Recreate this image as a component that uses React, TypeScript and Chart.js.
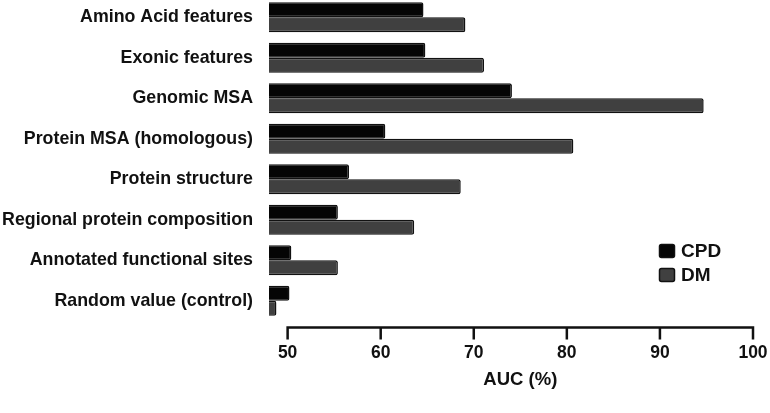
import React, { useEffect, useRef } from "react";
import { Chart, registerables } from "chart.js";

Chart.register(...registerables);

const categories = [
  "Amino Acid features",
  "Exonic features",
  "Genomic MSA",
  "Protein MSA (homologous)",
  "Protein structure",
  "Regional protein composition",
  "Annotated functional sites",
  "Random value (control)",
];
const cpdValues = [64.6, 64.8, 74.1, 60.5, 56.6, 55.4, 50.4, 50.2];
const dmValues = [69.1, 71.1, 94.7, 80.7, 68.6, 63.6, 55.4, 48.8];
const tickValues = [50, 60, 70, 80, 90, 100];
const seriesNames = ["CPD", "DM"];
const axisTitle = "AUC (%)";

const FONT = "'Liberation Sans', Arial, sans-serif";
const SHIFT = 3;

const customPlugin = {
  id: "customAxisLegend",
  afterDraw(chart: any) {
    const ctx = chart.ctx;
    const x = chart.scales.x;
    const area = chart.chartArea;
    const axisY = area.bottom + 6.5;
    const x0 = x.getPixelForValue(tickValues[0]);
    const x1 = x.getPixelForValue(tickValues[tickValues.length - 1]);
    ctx.save();
    ctx.strokeStyle = "#111";
    ctx.lineWidth = 2.5;
    ctx.lineCap = "butt";
    ctx.beginPath();
    ctx.moveTo(x0 - 1.25, axisY);
    ctx.lineTo(x1 + 1.25, axisY);
    tickValues.forEach((v) => {
      const px = x.getPixelForValue(v);
      ctx.moveTo(px, axisY);
      ctx.lineTo(px, axisY + 12);
    });
    ctx.stroke();

    ctx.fillStyle = "#111";
    ctx.font = `bold 18.5px ${FONT}`;
    ctx.textAlign = "center";
    ctx.textBaseline = "middle";
    ctx.fillText(axisTitle, (x0 + x1) / 2, 380 + SHIFT);

    const colors = ["#050505", "#404040"];
    const ys = [251 + SHIFT, 275 + SHIFT];
    seriesNames.forEach((name, i) => {
      ctx.fillStyle = colors[i];
      ctx.strokeStyle = "#111";
      ctx.lineWidth = 1.5;
      ctx.beginPath();
      (ctx as any).roundRect(659.5, ys[i] - 6.5, 15, 13, 2);
      ctx.fill();
      ctx.stroke();
      ctx.fillStyle = "#111";
      ctx.font = `bold 19px ${FONT}`;
      ctx.textAlign = "left";
      ctx.textBaseline = "middle";
      ctx.fillText(name, 681, ys[i] + 1);
    });
    ctx.restore();
  },
};

export default function App() {
  const ref = useRef<HTMLCanvasElement | null>(null);
  useEffect(() => {
    if (!ref.current) return;
    const chart = new Chart(ref.current, {
      type: "bar",
      data: {
        labels: categories,
        datasets: [
          {
            label: seriesNames[0],
            data: cpdValues,
            backgroundColor: "#050505",
            borderColor: "#111",
            borderWidth: 1.5,
            borderRadius: 2,
            borderSkipped: false,
            categoryPercentage: 0.74,
            barPercentage: 1,
          },
          {
            label: seriesNames[1],
            data: dmValues,
            backgroundColor: "#404040",
            borderColor: "#111",
            borderWidth: 1.5,
            borderRadius: 2,
            borderSkipped: false,
            categoryPercentage: 0.74,
            barPercentage: 1,
          },
        ],
      },
      options: {
        indexAxis: "y",
        animation: false,
        responsive: false,
        devicePixelRatio: 1,
        layout: { padding: { top: 0, right: 17, bottom: 0, left: 0 } },
        plugins: {
          legend: { display: false },
          tooltip: { enabled: false },
        },
        scales: {
          x: {
            type: "linear",
            min: 48,
            max: 100,
            afterBuildTicks: (scale: any) => {
              scale.ticks = tickValues.map((v) => ({ value: v }));
            },
            afterFit: (scale: any) => {
              scale.height = 92;
              scale.paddingLeft = 0;
              scale.paddingRight = 0;
            },
            grid: { display: false, drawTicks: false },
            border: { display: false },
            ticks: {
              color: "#111",
              font: { family: FONT, weight: "bold", size: 17.5 },
              padding: 22,
              maxRotation: 0,
            },
          },
          y: {
            type: "category",
            afterFit: (scale: any) => {
              scale.width = 269;
              scale.paddingTop = 0;
              scale.paddingBottom = 0;
            },
            grid: { display: false, drawTicks: false },
            border: { display: false },
            ticks: {
              color: "#111",
              font: { family: FONT, weight: "bold", size: 17.8 },
              padding: 16,
            },
          },
        },
      },
      plugins: [customPlugin],
    });
    return () => chart.destroy();
  }, []);
  return (
    <div style={{ position: "fixed", left: 0, top: 0, width: 770, height: 413, background: "#fff", overflow: "hidden" }}>
      <canvas
        ref={ref}
        width={770}
        height={413 + SHIFT}
        style={{ position: "absolute", left: 0, top: -SHIFT, width: 770, height: 413 + SHIFT }}
      />
    </div>
  );
}
